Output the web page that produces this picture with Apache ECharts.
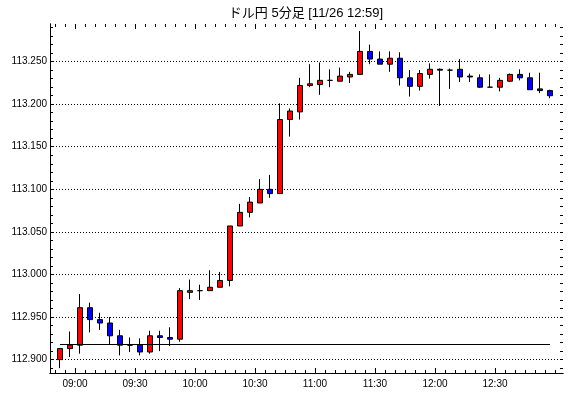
<!DOCTYPE html>
<html>
<head>
<meta charset="utf-8">
<script src="https://cdn.jsdelivr.net/npm/echarts@6/dist/echarts.min.js"></script>
<style>html,body{margin:0;padding:0;background:#fff}#c{width:570px;height:398px}</style>
</head>
<body>
<div id="c"></div>
<script>
const titleText = 'ドル円 5分足 [11/26 12:59]';
const categories = ['08:50','08:55','09:00','09:05','09:10','09:15','09:20','09:25','09:30','09:35',
  '09:40','09:45','09:50','09:55','10:00','10:05','10:10','10:15','10:20','10:25',
  '10:30','10:35','10:40','10:45','10:50','10:55','11:00','11:05','11:10','11:15',
  '11:20','11:25','11:30','11:35','11:40','11:45','11:50','11:55','12:00','12:05',
  '12:10','12:15','12:20','12:25','12:30','12:35','12:40','12:45','12:50','12:55'];
const opens = [112.900,112.913,112.917,112.961,112.947,112.943,112.928,112.917,112.917,112.909,
  112.928,112.926,112.924,112.979,112.981,112.981,112.985,112.993,113.057,113.073,
  113.084,113.100,113.095,113.182,113.191,113.222,113.223,113.228,113.227,113.232,
  113.235,113.262,113.253,113.247,113.254,113.231,113.221,113.235,113.241,113.240,
  113.241,113.233,113.231,113.220,113.220,113.227,113.235,113.231,113.218,113.216];
const closes = [112.913,112.917,112.961,112.947,112.943,112.928,112.917,112.917,112.909,112.928,
  112.926,112.924,112.981,112.981,112.981,112.985,112.993,113.057,113.073,113.085,
  113.100,113.095,113.182,113.192,113.222,113.224,113.228,113.228,113.233,113.235,
  113.262,113.253,113.247,113.254,113.231,113.221,113.236,113.241,113.240,113.240,
  113.232,113.232,113.220,113.220,113.228,113.235,113.231,113.217,113.216,113.210];
const lows = [112.890,112.903,112.907,112.932,112.935,112.918,112.905,112.909,112.905,112.907,
  112.910,112.916,112.921,112.971,112.970,112.981,112.985,112.986,113.057,113.067,
  113.084,113.090,113.095,113.162,113.182,113.220,113.211,113.220,113.227,113.225,
  113.235,113.247,113.247,113.238,113.222,113.209,113.216,113.230,113.198,113.218,
  113.226,113.226,113.219,113.220,113.215,113.226,113.228,113.217,113.213,113.207];
const highs = [112.913,112.933,112.977,112.967,112.955,112.950,112.935,112.926,112.925,112.934,
  112.934,112.938,112.984,112.994,112.988,113.005,113.003,113.057,113.083,113.091,
  113.112,113.117,113.201,113.195,113.231,113.247,113.249,113.241,113.243,113.238,
  113.286,113.270,113.262,113.262,113.261,113.240,113.240,113.248,113.242,113.242,
  113.253,113.236,113.235,113.235,113.231,113.236,113.241,113.237,113.237,113.217];
const baseLine = 112.918;
const yLabelValues = { min: 112.900, max: 113.250, step: 0.05 };
const yTickValues = { min: 112.89, max: 113.29, step: 0.01 };
const xLabelMinutes = { min: 540, max: 750, step: 30 };
const yFrame = { min: 112.8843, max: 113.2942 };

const candleData = categories.map((c, i) => [opens[i], closes[i], lows[i], highs[i]]);
const FONT = '"Liberation Sans", Arial, sans-serif';
const fmtTime = m => String(Math.floor(m / 60)).padStart(2, '0') + ':' + String(m % 60).padStart(2, '0');

const hiddenX = g => ({ gridIndex: g, type: 'value', show: false, min: 0, max: 1 });
const hiddenY = g => ({ gridIndex: g, type: 'value', show: false, min: 0, max: 1 });

const chart = echarts.init(document.getElementById('c'), null, { renderer: 'canvas' });
chart.setOption({
  animation: false,
  backgroundColor: '#ffffff',
  graphic: [{
    type: 'text', x: 306, y: 13,
    style: { text: titleText, align: 'center', verticalAlign: 'middle', fill: '#000',
      font: '13px "Liberation Sans", "Noto Sans CJK JP", sans-serif' }
  }],
  grid: [
    { left: 50, right: 7, top: 24, bottom: 25 },            // 0 frame
    { left: 55, width: 500, top: 24, bottom: 25 },          // 1 candles
    { left: 50, right: 7, top: 61.6, bottom: 38.4 },        // 2 labels + gridlines
    { left: 50, right: 7, top: 27.54, bottom: 29.9 },       // 3 y ticks
    { left: 75, width: 420, top: 24, bottom: 25 }           // 4 x labels + long ticks
  ],
  xAxis: [
    { gridIndex: 0, type: 'value', min: 0, max: 1, position: 'bottom',
      axisLine: { show: true, lineStyle: { color: '#000', width: 1 } },
      axisTick: { show: false }, axisLabel: { show: false }, splitLine: { show: false } },
    { gridIndex: 0, type: 'value', min: 0, max: 1, position: 'top',
      axisLine: { show: true, lineStyle: { color: '#000', width: 1 } },
      axisTick: { show: false }, axisLabel: { show: false }, splitLine: { show: false } },
    { gridIndex: 1, type: 'category', data: categories, boundaryGap: true, position: 'bottom',
      axisLine: { show: false },
      axisTick: { show: true, inside: true, length: 3, interval: 0, lineStyle: { color: '#000' } },
      axisLabel: { show: false }, splitLine: { show: false } },
    { gridIndex: 1, type: 'category', data: categories, boundaryGap: true, position: 'top',
      axisLine: { show: false },
      axisTick: { show: true, inside: true, length: 3, interval: 0, lineStyle: { color: '#000' } },
      axisLabel: { show: false }, splitLine: { show: false } },
    hiddenX(2),
    hiddenX(3),
    { gridIndex: 4, type: 'value', min: xLabelMinutes.min, max: xLabelMinutes.max, interval: xLabelMinutes.step,
      position: 'bottom', axisLine: { show: false },
      axisTick: { show: true, inside: true, length: 5, lineStyle: { color: '#000' } },
      axisLabel: { show: true, margin: 6, color: '#000', fontFamily: FONT, fontSize: 10, formatter: v => fmtTime(v) },
      splitLine: { show: false } },
    { gridIndex: 4, type: 'value', min: xLabelMinutes.min, max: xLabelMinutes.max, interval: xLabelMinutes.step,
      position: 'top', axisLine: { show: false },
      axisTick: { show: true, inside: true, length: 5, lineStyle: { color: '#000' } },
      axisLabel: { show: false }, splitLine: { show: false } }
  ],
  yAxis: [
    { gridIndex: 0, type: 'value', min: 0, max: 1, position: 'left',
      axisLine: { show: true, lineStyle: { color: '#000', width: 1 } },
      axisTick: { show: false }, axisLabel: { show: false }, splitLine: { show: false } },
    { gridIndex: 0, type: 'value', min: 0, max: 1, position: 'right',
      axisLine: { show: true, lineStyle: { color: '#000', width: 1 } },
      axisTick: { show: false }, axisLabel: { show: false }, splitLine: { show: false } },
    { gridIndex: 1, type: 'value', min: yFrame.min, max: yFrame.max, show: false, scale: true },
    { gridIndex: 2, type: 'value', min: yLabelValues.min, max: yLabelValues.max, interval: yLabelValues.step,
      position: 'left', axisLine: { show: false }, axisTick: { show: false },
      axisLabel: { show: true, margin: 3, color: '#000', fontFamily: FONT, fontSize: 10, formatter: v => v.toFixed(3) },
      splitLine: { show: true, lineStyle: { color: '#000', width: 1, type: [1, 2] } } },
    { gridIndex: 3, type: 'value', min: yTickValues.min, max: yTickValues.max, interval: yTickValues.step,
      position: 'left', axisLine: { show: false },
      axisTick: { show: true, inside: true, length: 3, lineStyle: { color: '#000' } },
      axisLabel: { show: false }, splitLine: { show: false } },
    { gridIndex: 3, type: 'value', min: yTickValues.min, max: yTickValues.max, interval: yTickValues.step,
      position: 'right', axisLine: { show: false },
      axisTick: { show: true, inside: true, length: 3, lineStyle: { color: '#000' } },
      axisLabel: { show: false }, splitLine: { show: false } },
    hiddenY(4)
  ],
  series: [{
    type: 'candlestick',
    xAxisIndex: 2, yAxisIndex: 2,
    data: candleData,
    barWidth: 6,
    itemStyle: { color: '#ff0000', color0: '#0000ff', borderColor: '#000', borderColor0: '#000', borderColorDoji: '#000', borderWidth: 1 },
    markLine: {
      silent: true, symbol: ['none', 'none'], label: { show: false },
      lineStyle: { color: '#000', width: 1, type: 'solid' },
      data: [[{ coord: [categories[0], baseLine] }, { coord: [categories[categories.length - 1], baseLine] }]]
    }
  }]
});
</script>
</body>
</html>
